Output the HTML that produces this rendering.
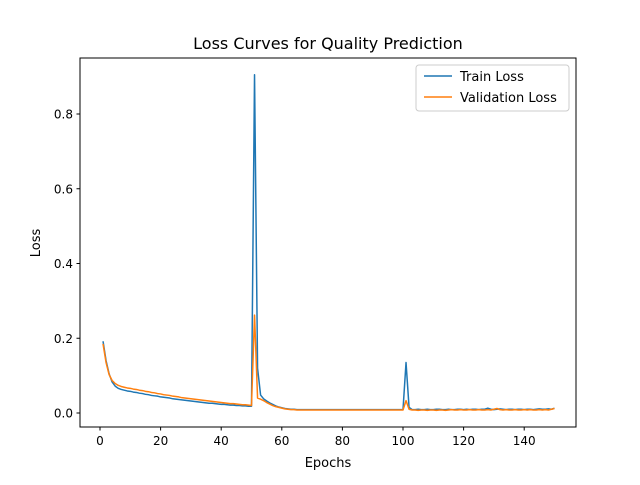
<!DOCTYPE html>
<html><head><meta charset="utf-8"><style>
body{margin:0;background:#fff;font-family:"Liberation Sans","DejaVu Sans",sans-serif}
svg text{font-family:"DejaVu Sans","Liberation Sans",sans-serif}
</style></head><body>
<svg id="chart" width="640" height="480">
<rect width="640" height="480" fill="#fff"/>
<text x="328" y="49" text-anchor="middle" font-size="16">Loss Curves for Quality Prediction</text>
<text x="328" y="467" text-anchor="middle" font-size="13">Epochs</text>
<text x="40" y="243" text-anchor="middle" font-size="13" transform="rotate(-90 40 243)">Loss</text>
<g id="marks"></g>
<rect x="80" y="58" width="496" height="369" fill="none" stroke="#000" stroke-width="1"/>
<g>
<rect x="416" y="65" width="153" height="46" rx="3" fill="#fff" stroke="#ccc"/>
<line x1="424" y1="76" x2="452" y2="76" stroke="#1f77b4" stroke-width="1.5"/>
<text x="460" y="81" font-size="13">Train Loss</text>
<line x1="424" y1="97" x2="452" y2="97" stroke="#ff7f0e" stroke-width="1.5"/>
<text x="460" y="102" font-size="13">Validation Loss</text>
</g>
</svg>
<script>
const xTicks=[0,20,40,60,80,100,120,140];
const yTicks=[0.0,0.2,0.4,0.6,0.8];
const yTickLabels=["0.0","0.2","0.4","0.6","0.8"];
const trainLoss=[0.192,0.140,0.105,0.083,0.072,0.066,0.063,0.061,0.059,0.058,
0.056,0.055,0.053,0.052,0.050,0.049,0.047,0.046,0.045,0.043,
0.042,0.041,0.040,0.038,0.037,0.036,0.035,0.034,0.033,0.032,
0.031,0.030,0.029,0.028,0.027,0.026,0.026,0.025,0.024,0.023,
0.023,0.022,0.021,0.021,0.020,0.020,0.019,0.019,0.018,0.018,
0.905,0.120,0.048,0.038,0.032,0.027,0.023,0.019,0.016,0.014,
0.012,0.011,0.010,0.010,0.009,0.009,0.009,0.009,0.009,0.009,
0.009,0.009,0.009,0.009,0.009,0.009,0.009,0.009,0.009,0.009,
0.009,0.009,0.009,0.009,0.009,0.009,0.009,0.009,0.009,0.009,
0.009,0.009,0.009,0.009,0.009,0.009,0.009,0.009,0.009,0.009,
0.135,0.015,0.009,0.009,0.010,0.009,0.009,0.010,0.009,0.009,
0.010,0.010,0.009,0.009,0.010,0.009,0.009,0.010,0.010,0.009,
0.010,0.009,0.010,0.010,0.009,0.010,0.010,0.013,0.010,0.009,
0.010,0.011,0.010,0.009,0.010,0.010,0.009,0.010,0.010,0.009,
0.010,0.010,0.009,0.010,0.011,0.010,0.010,0.011,0.010,0.013];
const valLoss=[0.185,0.135,0.103,0.087,0.079,0.074,0.071,0.069,0.067,0.066,
0.064,0.063,0.061,0.060,0.058,0.057,0.055,0.054,0.052,0.051,
0.049,0.048,0.047,0.045,0.044,0.043,0.041,0.040,0.039,0.038,
0.037,0.036,0.035,0.034,0.033,0.032,0.031,0.030,0.029,0.028,
0.027,0.026,0.025,0.025,0.024,0.023,0.022,0.022,0.021,0.020,
0.262,0.040,0.037,0.033,0.028,0.024,0.020,0.017,0.015,0.013,
0.011,0.010,0.009,0.009,0.008,0.008,0.008,0.008,0.008,0.008,
0.008,0.008,0.008,0.008,0.008,0.008,0.008,0.008,0.008,0.008,
0.008,0.008,0.008,0.008,0.008,0.008,0.008,0.008,0.008,0.008,
0.008,0.008,0.008,0.008,0.008,0.008,0.008,0.008,0.008,0.008,
0.033,0.010,0.008,0.008,0.007,0.008,0.008,0.007,0.008,0.008,
0.007,0.008,0.008,0.007,0.008,0.009,0.008,0.008,0.009,0.008,
0.008,0.009,0.008,0.008,0.009,0.008,0.008,0.009,0.008,0.010,
0.012,0.009,0.008,0.009,0.008,0.008,0.009,0.008,0.008,0.009,
0.008,0.009,0.008,0.008,0.009,0.008,0.009,0.008,0.010,0.012];
const NS="http://www.w3.org/2000/svg";
const X0=100,XS=60.6/20,Y0=413,YS=74.75/0.2;
function xs(v){return X0+v*XS;}
function ys(v){return Y0-v*YS;}
const g=document.getElementById('marks');
function mk(t,a){const e=document.createElementNS(NS,t);for(const k in a)e.setAttribute(k,a[k]);g.appendChild(e);return e;}
xTicks.forEach(t=>{
 const l=mk('line',{x1:xs(t),x2:xs(t),y1:427,y2:430.5,stroke:'#000'});
 
 
 const tx=mk('text',{x:xs(t),y:445,'text-anchor':'middle','font-size':'12'});tx.textContent=t;
 
 
});
yTicks.forEach((t,i)=>{
 const l=mk('line',{x1:76.5,x2:80,y1:ys(t),y2:ys(t),stroke:'#000'});
 
 
 const tx=mk('text',{x:73,y:ys(t)+4.5,'text-anchor':'end','font-size':'12'});tx.textContent=yTickLabels[i];
 
 
});
function line(d,c,n){
 const p=mk('polyline',{points:d.map((v,i)=>xs(i+1)+','+ys(v)).join(' '),fill:'none',stroke:c,'stroke-width':1.5,'stroke-linejoin':'round'});
 
 
}
line(trainLoss,'#1f77b4','train-loss-line');
line(valLoss,'#ff7f0e','validation-loss-line');
</script>
</body></html>
